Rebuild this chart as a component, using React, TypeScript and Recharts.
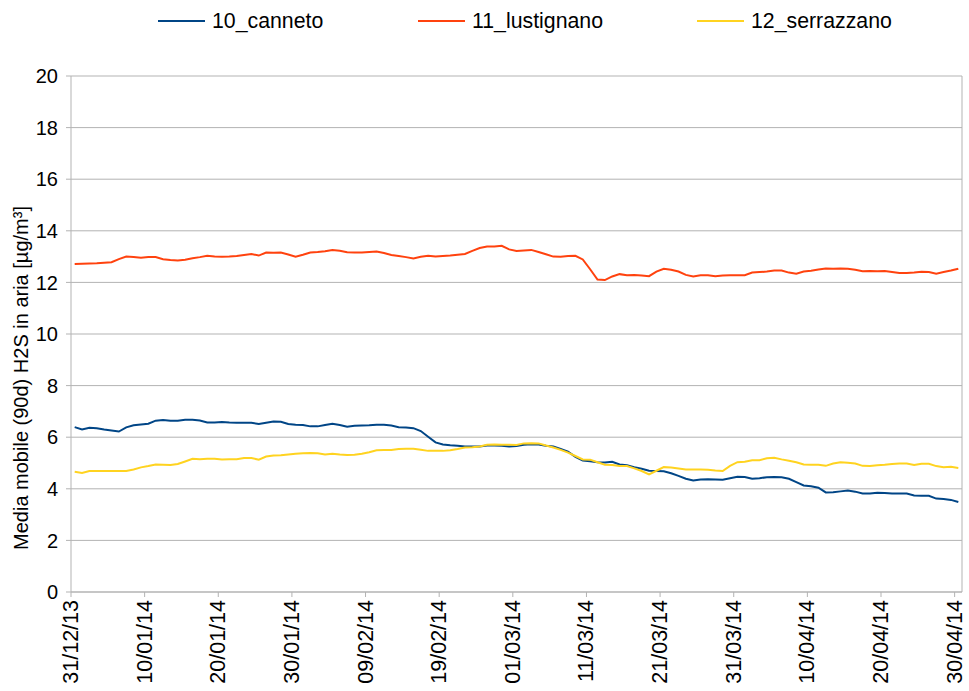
import React from 'react';
import { LineChart, Line, XAxis, YAxis, CartesianGrid, ReferenceLine } from 'recharts';

const canneto = [
  6.39, 6.30, 6.37, 6.35, 6.30, 6.26, 6.22, 6.38, 6.46, 6.49, 6.52, 6.64, 6.67, 6.64, 6.64, 6.68, 6.68, 6.65, 6.57, 6.57, 6.59, 6.57, 6.56, 6.56, 6.56, 6.51, 6.56, 6.61, 6.60, 6.51,
  6.48, 6.47, 6.42, 6.42, 6.47, 6.52, 6.47, 6.41, 6.44, 6.45, 6.46, 6.48, 6.48, 6.45, 6.39, 6.38, 6.35, 6.24, 6.02, 5.80, 5.72, 5.69, 5.67, 5.64, 5.64, 5.64, 5.68, 5.68, 5.67, 5.64,
  5.66, 5.71, 5.73, 5.72, 5.67, 5.64, 5.54, 5.44, 5.24, 5.10, 5.07, 5.03, 5.02, 5.05, 4.94, 4.91, 4.84, 4.78, 4.70, 4.69, 4.68, 4.60, 4.50, 4.39, 4.32, 4.36, 4.37, 4.36, 4.35, 4.41,
  4.47, 4.46, 4.39, 4.41, 4.45, 4.46, 4.45, 4.39, 4.26, 4.13, 4.10, 4.04, 3.86, 3.87, 3.90, 3.93, 3.89, 3.82, 3.82, 3.85, 3.84, 3.82, 3.82, 3.82, 3.74, 3.73, 3.73, 3.62, 3.60, 3.57, 3.49,
];

const lustignano = [
  12.71, 12.72, 12.73, 12.74, 12.76, 12.78, 12.90, 13.00, 12.98, 12.96, 12.98, 12.98, 12.90, 12.87, 12.85, 12.88, 12.94, 12.98, 13.03, 13.00, 12.99, 13.00, 13.02, 13.06, 13.10, 13.04, 13.16, 13.15, 13.16, 13.08,
  13.00, 13.07, 13.16, 13.18, 13.21, 13.26, 13.23, 13.17, 13.16, 13.16, 13.18, 13.20, 13.14, 13.06, 13.02, 12.98, 12.93, 12.99, 13.03, 13.00, 13.02, 13.04, 13.07, 13.10, 13.22, 13.33, 13.39, 13.39, 13.42, 13.28,
  13.22, 13.24, 13.26, 13.18, 13.09, 13.00, 12.99, 13.02, 13.03, 12.89, 12.51, 12.11, 12.09, 12.23, 12.32, 12.28, 12.29, 12.27, 12.24, 12.42, 12.53, 12.49, 12.42, 12.29, 12.23, 12.28, 12.28, 12.24, 12.27, 12.28,
  12.28, 12.28, 12.38, 12.40, 12.42, 12.46, 12.46, 12.38, 12.34, 12.42, 12.45, 12.50, 12.54, 12.53, 12.54, 12.53, 12.49, 12.43, 12.44, 12.43, 12.44, 12.40, 12.36, 12.36, 12.38, 12.41, 12.40, 12.34, 12.40, 12.46, 12.53,
];

const serrazzano = [
  4.66, 4.61, 4.69, 4.69, 4.69, 4.69, 4.69, 4.69, 4.75, 4.83, 4.88, 4.94, 4.93, 4.92, 4.96, 5.06, 5.16, 5.15, 5.16, 5.16, 5.14, 5.15, 5.15, 5.19, 5.19, 5.13, 5.25, 5.29, 5.30, 5.33,
  5.36, 5.38, 5.39, 5.38, 5.33, 5.36, 5.33, 5.31, 5.32, 5.36, 5.42, 5.49, 5.50, 5.50, 5.54, 5.55, 5.55, 5.51, 5.47, 5.47, 5.47, 5.49, 5.54, 5.60, 5.61, 5.64, 5.71, 5.72, 5.71, 5.71,
  5.70, 5.76, 5.77, 5.76, 5.68, 5.60, 5.51, 5.40, 5.27, 5.14, 5.13, 5.03, 4.93, 4.92, 4.88, 4.88, 4.79, 4.69, 4.56, 4.70, 4.84, 4.83, 4.79, 4.75, 4.75, 4.75, 4.74, 4.71, 4.69, 4.89,
  5.03, 5.05, 5.11, 5.11, 5.18, 5.20, 5.14, 5.09, 5.03, 4.94, 4.93, 4.93, 4.89, 4.98, 5.03, 5.01, 4.98, 4.89, 4.88, 4.91, 4.93, 4.96, 4.98, 4.98, 4.92, 4.97, 4.97, 4.88, 4.84, 4.85, 4.81,
];

const tickDays = [0, 10, 20, 30, 40, 50, 60, 70, 80, 90, 100, 110, 120];
const tickLabels = ['31/12/13', '10/01/14', '20/01/14', '30/01/14', '09/02/14', '19/02/14', '01/03/14', '11/03/14', '21/03/14', '31/03/14', '10/04/14', '20/04/14', '30/04/14'];
const yTicks = [0, 2, 4, 6, 8, 10, 12, 14, 16, 18, 20];

const seriesNames = ['10_canneto', '11_lustignano', '12_serrazzano'];
const seriesColors = ['#004586', '#ff420e', '#ffd320'];

const data = canneto.map((v, i) => ({
  idx: i,
  canneto: v,
  lustignano: lustignano[i],
  serrazzano: serrazzano[i],
}));

const FONT = '"Liberation Sans", Arial, sans-serif';

const XTick = (props: any) => {
  const { x, y, payload } = props;
  const k = tickDays.indexOf(Math.round(payload.value + 0.5));
  const label = k >= 0 ? tickLabels[k] : '';
  return (
    <g transform={`translate(${x},${y + 1})`}>
      <text transform="rotate(-90)" x={0} y={0} textAnchor="end" dominantBaseline="central" fill="#000" fontSize={21.5} fontFamily={FONT}>
        {label}
      </text>
    </g>
  );
};

const YTitle = () => (
  <text x={21} y={378} transform="rotate(-90 21 378)" textAnchor="middle" dominantBaseline="central" fill="#000" fontSize={20} fontFamily={FONT}>
    Media mobile (90d) H2S in aria [µg/m³]
  </text>
);

const legendX = [158, 418, 697];

export default function App() {
  return (
    <div style={{ position: 'absolute', left: 0, top: 0, width: 969, height: 691, background: '#fff' }}>
      {seriesNames.map((n, i) => (
        <div key={n} style={{ position: 'absolute', left: legendX[i], top: 8, height: 26, display: 'flex', alignItems: 'center', fontFamily: FONT, fontSize: 21.3, color: '#000', whiteSpace: 'nowrap' }}>
          <div style={{ width: 47, height: 2, background: seriesColors[i], marginRight: 7 }} />
          <span>{n}</span>
        </div>
      ))}
      <LineChart width={969} height={691} data={data} margin={{ top: 76, right: 7, left: 0, bottom: 0 }}>
        <CartesianGrid horizontal={true} vertical={false} stroke="#b3b3b3" strokeWidth={1} />
        <XAxis
          dataKey="idx"
          type="number"
          domain={[-0.5, 120.5]}
          ticks={tickDays.map((d) => d - 0.5)}
          interval={0}
          height={99}
          axisLine={{ stroke: '#b3b3b3' }}
          tickLine={{ stroke: '#b3b3b3' }}
          tickSize={5}
          tickMargin={2}
          tick={<XTick />}
        />
        <YAxis
          type="number"
          domain={[0, 20]}
          ticks={yTicks}
          interval={0}
          width={71}
          axisLine={{ stroke: '#b3b3b3' }}
          tickLine={{ stroke: '#b3b3b3' }}
          tickSize={5}
          tickMargin={8}
          tick={{ fill: '#000', fontSize: 20, fontFamily: FONT }}
          label={<YTitle />}
        />
        <ReferenceLine x={120.5} stroke="#b3b3b3" strokeWidth={1} />
        <Line type="linear" dataKey="canneto" stroke={seriesColors[0]} strokeWidth={2} dot={false} isAnimationActive={false} />
        <Line type="linear" dataKey="lustignano" stroke={seriesColors[1]} strokeWidth={2} dot={false} isAnimationActive={false} />
        <Line type="linear" dataKey="serrazzano" stroke={seriesColors[2]} strokeWidth={2} dot={false} isAnimationActive={false} />
      </LineChart>
    </div>
  );
}
